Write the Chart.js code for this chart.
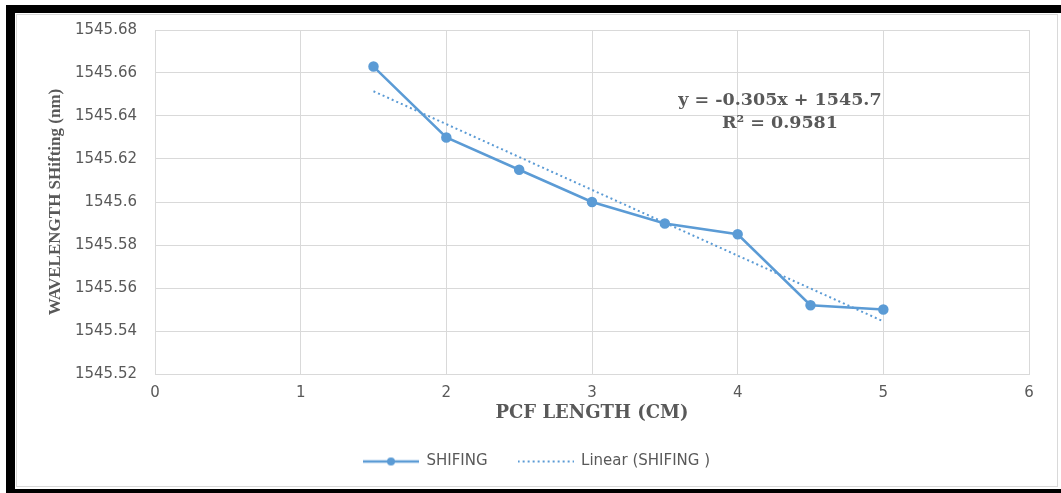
<!DOCTYPE html>
<html>
<head>
<meta charset="utf-8">
<script src="https://cdn.jsdelivr.net/npm/chart.js@4/dist/chart.umd.min.js"></script>
<style>
  html, body { margin: 0; padding: 0; background: #fff; overflow: hidden; width: 100%; height: 100%; }
  #wrap { position: relative; width: 1061px; height: 493px; overflow: hidden; background: #fff; }
  #wrap canvas { position: absolute; left: 0; top: 0; }
  .bar { position: absolute; background: #000; pointer-events: none; }
  #frame { position: absolute; left: 16px; top: 14px; width: 1040px; height: 471px;
           border: 1px solid #d9d9d9; pointer-events: none; }
</style>
</head>
<body>
<div id="wrap">
  <canvas id="shiftChart" width="1061" height="493"></canvas>
  <div id="frame"></div>
  <div class="bar" style="left:6px;top:5px;width:1055px;height:8px"></div>
  <div class="bar" style="left:6px;top:5px;width:9px;height:488px"></div>
  <div class="bar" style="left:6px;top:489px;width:1055px;height:4px"></div>
</div>
<script>
// Wavelength shifting vs PCF length

const theme = {
    blue: "#5B9BD5",
    grid: "#D9D9D9",
    text: "#595959"
};

const pcfLength = [1.5, 2, 2.5, 3, 3.5, 4, 4.5, 5];
const shifting = [1545.663, 1545.630, 1545.615, 1545.600, 1545.590, 1545.585, 1545.552, 1545.550];

// trendline end points
const trendX = [1.5, 5];
const trendY = [1545.6515, 1545.5445];

const equationLines = ["y = -0.305x + 1545.7", "R\u00B2 = 0.9581"];

const seriesNames = ["SHIFING", "Linear (SHIFING )"];

// legend samples
function legendSample(withDot) {
    const c = document.createElement("canvas");
    c.width = 56;
    c.height = 12;
    const g = c.getContext("2d");
    g.strokeStyle = theme.blue;
    if (withDot) {
        g.lineWidth = 2.5;
        g.beginPath();
        g.moveTo(0, 6);
        g.lineTo(56, 6);
        g.stroke();
        g.fillStyle = theme.blue;
        g.beginPath();
        g.arc(28, 6, 4, 0, Math.PI * 2);
        g.fill();
    } else {
        g.lineWidth = 2;
        g.setLineDash([2, 3]);
        g.beginPath();
        g.moveTo(0, 6);
        g.lineTo(56, 6);
        g.stroke();
    }
    return c;
}

const equationPlugin = {
    id: "equation",
    afterDatasetsDraw(chart) {
        const { ctx, scales } = chart;
        const x = scales.x.getPixelForValue(4.29);
        const ys = [1545.6474, 1545.6367];
        ctx.save();
        ctx.font = "bold 17.5px 'DejaVu Serif'";
        ctx.fillStyle = theme.text;
        ctx.textAlign = "center";
        ctx.textBaseline = "middle";
        equationLines.forEach((t, i) => {
            ctx.fillText(t, x, scales.y.getPixelForValue(ys[i]));
        });
        ctx.restore();
    }
};

const ctx = document.getElementById("shiftChart");

new Chart(ctx, {
    type: "scatter",
    data: {
        datasets: [{
            label: seriesNames[0],
            data: pcfLength.map((x, i) => ({ x: x, y: shifting[i] })),
            showLine: true,
            borderColor: theme.blue,
            backgroundColor: theme.blue,
            borderWidth: 2.5,
            pointRadius: 4,
            pointHoverRadius: 4,
            order: 1
        }, {
            label: seriesNames[1],
            data: trendX.map((x, i) => ({ x: x, y: trendY[i] })),
            showLine: true,
            borderColor: theme.blue,
            borderWidth: 2,
            borderDash: [2, 3],
            pointRadius: 0,
            order: 2
        }]
    },
    options: {
        responsive: false,
        animation: false,
        layout: {
            padding: { left: 44, right: 32, top: 30, bottom: 14 }
        },
        plugins: {
            tooltip: { enabled: false },
            legend: {
                position: "bottom",
                labels: {
                    usePointStyle: true,
                    pointStyleWidth: 56,
                    padding: 30,
                    color: theme.text,
                    font: { family: "'DejaVu Sans'", size: 15 },
                    generateLabels: () => [
                        { text: seriesNames[0], pointStyle: legendSample(true), fontColor: theme.text, lineWidth: 0, datasetIndex: 0 },
                        { text: seriesNames[1], pointStyle: legendSample(false), fontColor: theme.text, lineWidth: 0, datasetIndex: 1 }
                    ]
                }
            }
        },
        scales: {
            x: {
                type: "linear",
                min: 0,
                max: 6,
                ticks: {
                    stepSize: 1,
                    padding: 10,
                    color: theme.text,
                    font: { family: "'DejaVu Sans'", size: 15 }
                },
                grid: { color: theme.grid, drawTicks: false },
                border: { color: theme.grid },
                title: {
                    display: true,
                    text: "PCF LENGTH (CM)",
                    color: theme.text,
                    font: { family: "'DejaVu Serif'", size: 18, weight: "bold" },
                    padding: { top: 0, bottom: 0 }
                },
                afterFit: s => { s.height = 50; }
            },
            y: {
                min: 1545.52,
                max: 1545.68,
                ticks: {
                    stepSize: 0.02,
                    padding: 18,
                    color: theme.text,
                    font: { family: "'DejaVu Sans'", size: 15 },
                    callback: v => String(parseFloat(v.toFixed(2)))
                },
                grid: { color: theme.grid, drawTicks: false },
                border: { color: theme.grid },
                title: {
                    display: true,
                    text: "WAVELENGTH SHifting (nm)",
                    color: theme.text,
                    font: { family: "'Liberation Serif'", size: 17, weight: "bold" },
                    padding: { top: 1, bottom: 0 }
                },
                afterFit: s => { s.width = 111; }
            }
        }
    },
    plugins: [equationPlugin]
});
</script>
</body>
</html>
